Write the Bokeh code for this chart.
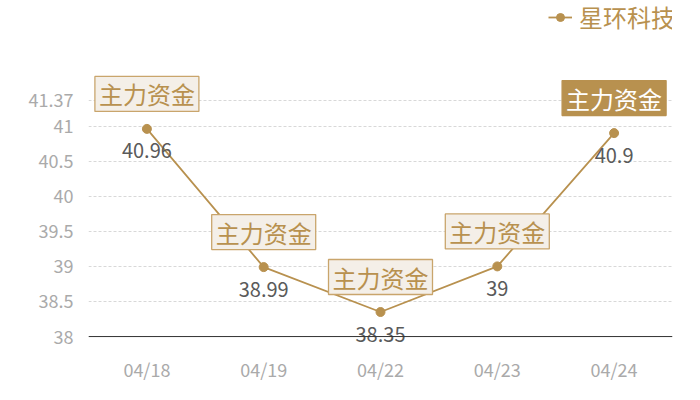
from bokeh.plotting import figure
from bokeh.models import ColumnDataSource, Range1d, FixedTicker, Legend, LegendItem, Span
from bokeh.core.properties import value
from bokeh.embed import file_html
from bokeh.resources import INLINE

dates = ["04/18", "04/19", "04/22", "04/23", "04/24"]
prices = [40.96, 38.99, 38.35, 39.0, 40.9]
price_labels = ["40.96", "38.99", "38.35", "39", "40.9"]
mark_text = ["主力资金", "主力资金", "主力资金", "主力资金", "主力资金"]
y_ticks = [38, 38.5, 39, 39.5, 40, 40.5, 41, 41.37]
series_name = "星环科技"

GOLD = "#b8914f"
FONT = "Noto Sans CJK SC"

p = figure(width=692, height=391, x_range=dates, y_range=Range1d(37.787, 42.79),
           output_backend="svg", toolbar_location=None,
           min_border_left=88, min_border_right=20, min_border_top=0, min_border_bottom=40)
p.outline_line_color = None
p.background_fill_color = "white"

# axes
p.xaxis.axis_line_color = None
p.xaxis.major_tick_line_color = None
p.xaxis.minor_tick_line_color = None
p.xaxis.major_label_text_color = "#aaaaaa"
p.xaxis.major_label_text_font = FONT
p.xaxis.major_label_text_font_size = "18px"
p.xaxis.major_label_standoff = -2
p.yaxis.axis_line_color = None
p.yaxis.major_tick_line_color = None
p.yaxis.minor_tick_line_color = None
p.yaxis.major_label_text_color = "#aaaaaa"
p.yaxis.major_label_text_font = FONT
p.yaxis.major_label_text_font_size = "18px"
p.yaxis.major_label_standoff = 9
p.yaxis.ticker = FixedTicker(ticks=y_ticks)
p.yaxis.major_label_overrides = {t: (str(t) if t != int(t) else str(int(t))) for t in y_ticks}

p.xgrid.grid_line_color = None
p.ygrid.grid_line_color = "#d8d8d8"
p.ygrid.grid_line_dash = "3 2"

p.add_layout(Span(location=y_ticks[0], dimension="width", line_color="#333333", line_width=1))

src = ColumnDataSource(dict(x=dates, y=prices, lab=price_labels, mk=mark_text))
ln = p.line("x", "y", source=src, line_color=GOLD, line_width=1.8)
sc = p.scatter("x", "y", source=src, size=9, fill_color=GOLD, line_color=GOLD)

p.text("x", "y", text="lab", source=src, x_offset=0, y_offset=22,
       text_align="center", text_baseline="middle", text_color="#5a5a5a",
       text_font=value(FONT), text_font_size="20px")

pad = dict(left=4, right=4, top=0, bottom=0)
src_a = ColumnDataSource(dict(x=dates[:4], y=prices[:4], mk=mark_text[:4]))
src_b = ColumnDataSource(dict(x=dates[4:], y=prices[4:], mk=mark_text[4:]))
p.text("x", "y", text="mk", source=src_a, y_offset=-35,
       text_align="center", text_baseline="middle", text_color=GOLD,
       text_font=value(FONT), text_font_size="24px",
       background_fill_color="#f4efe8", border_line_color="#c9a56c", border_line_width=1.3,
       padding=pad)
p.text("x", "y", text="mk", source=src_b, y_offset=-35,
       text_align="center", text_baseline="middle", text_color="white",
       text_font=value(FONT), text_font_size="24px",
       background_fill_color=GOLD, border_line_color=GOLD, border_line_width=1.3,
       padding=pad)

legend = Legend(items=[LegendItem(label=series_name, renderers=[ln, sc])],
                location=(460, 317), padding=0, margin=0, glyph_width=24,
                label_standoff=7, label_text_color=GOLD, label_text_font=FONT,
                label_text_font_size="24px", border_line_color=None,
                background_fill_alpha=0)
p.add_layout(legend)

open("out.html", "w").write(file_html(p, INLINE))
